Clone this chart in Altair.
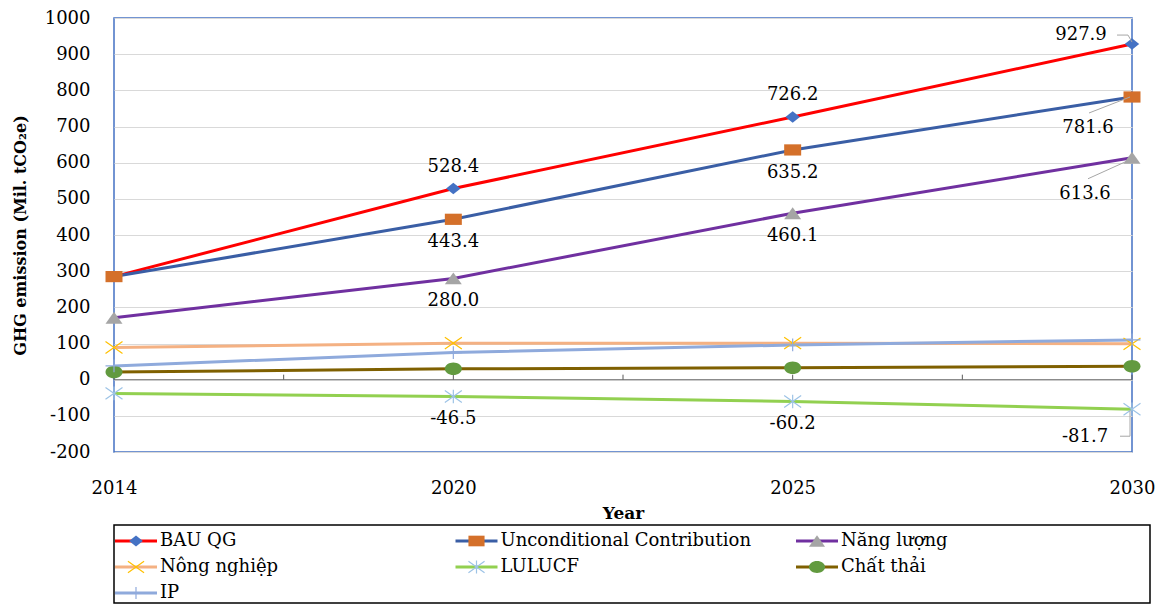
import json
import altair as alt
import pandas as pd

# ---------------- data ----------------
years = ["2014", "2020", "2025", "2030"]
series = ["BAU QG", "Unconditional Contribution", "Năng lượng", "Nông nghiệp",
          "LULUCF", "Chất thải", "IP"]
bau = [285.0, 528.4, 726.2, 927.9]
uncond = [285.0, 443.4, 635.2, 781.6]
energy = [171.0, 280.0, 460.1, 613.6]
agri = [89.0, 101.0, 101.0, 99.0]
lulucf = [-38.0, -46.5, -60.2, -81.7]
waste = [21.0, 30.0, 33.0, 37.0]
ip = [38.0, 75.0, 96.0, 110.0]
values = [bau, uncond, energy, agri, lulucf, waste, ip]

# labelled points: (series, year)
labels_above = [("BAU QG", "2020"), ("BAU QG", "2025")]
labels_below = [("Unconditional Contribution", "2020"), ("Unconditional Contribution", "2025"),
                ("Năng lượng", "2020"), ("Năng lượng", "2025"),
                ("LULUCF", "2020"), ("LULUCF", "2025")]

# ---------------- styles ----------------
FONT = "DejaVu Serif"
line_colors = ["#FF0000", "#3A5EA5", "#7030A0", "#F4B183", "#92D050", "#7F6000", "#8FAADC"]
marker_colors = ["#4472C4", "#D4702A", "#A5A5A5", "#FFC000", "#9DC3E6", "#629A3F", "#8FAADC"]
shapes = [
    "M-0.85,0L0,-0.68L0.85,0L0,0.68Z",                       # diamond
    "M-1,-0.66L1,-0.66L1,0.66L-1,0.66Z",                     # square
    "M-1,0.7L0,-0.7L1,0.7Z",                                 # triangle
    "M-1,-0.7L1,0.7M-1,0.7L1,-0.7",                          # x
    "M-1,-0.7L1,0.7M-1,0.7L1,-0.7M0,-0.8L0,0.8",             # asterisk
    "M-1,0A1,0.74 0 1,0 1,0A1,0.74 0 1,0 -1,0Z",             # circle
    "M-1,0L1,0M0,-0.75L0,0.75",                              # plus
]
filled_series = ["BAU QG", "Unconditional Contribution", "Năng lượng", "Chất thải"]
stroked_series = ["Nông nghiệp", "LULUCF", "IP"]

rows = []
for s, vals in zip(series, values):
    for i, (yr, v) in enumerate(zip(years, vals)):
        rows.append({"series": s, "year": yr, "xi": i, "value": v, "label": f"{v:.1f}"})
df = pd.DataFrame(rows)

color_scale = alt.Scale(domain=series, range=line_colors)
fill_scale = alt.Scale(domain=series, range=marker_colors)
shape_scale = alt.Scale(domain=series, range=shapes)
x_scale = alt.Scale(domain=[0, len(years) - 1], nice=False, zero=False)
y_scale = alt.Scale(domain=[-200, 1000], nice=False, zero=False)

label_expr = json.dumps(years) + "[datum.value]"

x_axis = alt.Axis(values=list(range(len(years))), labelExpr=label_expr, title="Year",
                  grid=False, domain=False, ticks=False, tickSize=0, labelPadding=27,
                  labelFlush=False, labelOverlap=False,
                  titlePadding=8, labelFont=FONT, labelFontSize=18, labelColor="black",
                  titleFont=FONT, titleFontSize=17, titleFontWeight="bold", titleColor="black")
y_axis = alt.Axis(values=list(range(-200, 1001, 100)), title="GHG emission (Mil. tCO₂e)",
                  labelExpr="'' + datum.value", labelOverlap=False, labelFlush=False,
                  grid=True, gridColor="#D9D9D9", gridWidth=1, domain=False, ticks=False,
                  tickSize=0, labelPadding=24, titlePadding=16, labelFont=FONT,
                  labelFontSize=18, labelColor="black", titleFont=FONT, titleFontSize=16,
                  titleFontWeight="bold", titleColor="black")

x_enc = alt.X("xi:Q", scale=x_scale, axis=x_axis, title="Year")
y_enc = alt.Y("value:Q", scale=y_scale, axis=y_axis, title="GHG emission (Mil. tCO₂e)")

base = alt.Chart(df).encode(x=x_enc, y=y_enc)

zero_line = alt.Chart(pd.DataFrame({"value": [0]})).mark_rule(
    color="#767676", strokeWidth=1).encode(y=y_enc)

tick_df = pd.DataFrame({"xi": [i / 2 for i in range(2 * len(years) - 1)], "value": 0})
zero_ticks = alt.Chart(tick_df).mark_rule(color="#595959", strokeWidth=1, y2Offset=-5).encode(
    x=x_enc, y=y_enc, y2="value:Q")

lines = base.mark_line(strokeWidth=3).encode(
    color=alt.Color("series:N", scale=color_scale, legend=None),
    order=alt.Order("xi:Q"),
)

filled_pts = base.transform_filter(
    alt.FieldOneOfPredicate(field="series", oneOf=filled_series)
).mark_point(filled=True, size=289, opacity=1, strokeWidth=0).encode(
    shape=alt.Shape("series:N", scale=shape_scale, legend=None),
    fill=alt.Fill("series:N", scale=fill_scale, legend=None),
)
stroked_pts = base.transform_filter(
    alt.FieldOneOfPredicate(field="series", oneOf=stroked_series)
).mark_point(filled=False, size=289, opacity=1, strokeWidth=1.2).encode(
    shape=alt.Shape("series:N", scale=shape_scale, legend=None),
    stroke=alt.Stroke("series:N", scale=fill_scale, legend=None),
)


def sel(pairs):
    expr = " || ".join(f"(datum.series === {json.dumps(s)} && datum.year === {json.dumps(y)})"
                       for s, y in pairs)
    return expr


text_style = dict(font=FONT, fontSize=18, color="black", baseline="middle", align="center")
txt_above = base.transform_filter(sel(labels_above)).mark_text(dy=-22, **text_style).encode(text="label:N")
txt_below = base.transform_filter(sel(labels_below)).mark_text(dy=23, **text_style).encode(text="label:N")

last = years[-1]
end_specs = [  # series, dx, dy for the 2030 labels
    ("BAU QG", -51, -9),
    ("Unconditional Contribution", -44, 31),
    ("Năng lượng", -47, 36),
    ("LULUCF", -47, 28),
]
end_layers = []
for s, dx, dy in end_specs:
    end_layers.append(base.transform_filter(sel([(s, last)])).mark_text(dx=dx, dy=dy, **text_style)
                      .encode(text="label:N"))

# leader lines (offsets relative to the point)
leader_specs = [
    ("BAU QG", (-15, -9), (-4, -9)),
    ("BAU QG", (-4, -9), (0, -2)),
    ("Unconditional Contribution", (-43, 16), (-2, 0)),
    ("Năng lượng", (-44, 21), (-2, 2)),
    ("LULUCF", (-12, 27), (-2, 27)),
    ("LULUCF", (-2, 27), (-2, 1)),
]
leader_layers = []
for s, (x1, y1), (x2, y2) in leader_specs:
    leader_layers.append(
        base.transform_filter(sel([(s, last)])).mark_rule(
            color="#A6A6A6", strokeWidth=1, xOffset=x1, yOffset=y1, x2Offset=x2, y2Offset=y2
        ).encode(x2="xi:Q", y2="value:Q")
    )

main = alt.layer(
    lines, zero_line, zero_ticks, filled_pts, stroked_pts, txt_above, txt_below,
    *end_layers, *leader_layers
).properties(width=1018, height=434,
             view=alt.ViewBackground(stroke="#4472C4", strokeWidth=1.5, fill="white"))

# ---------------- legend ----------------
leg = pd.DataFrame({"series": series,
                    "col": [i % 3 for i in range(len(series))],
                    "row": [i // 3 for i in range(len(series))]})
lbase = alt.Chart(leg).encode(
    x=alt.X("col:Q", scale=alt.Scale(domain=[0, 2], range=[22, 703], nice=False, zero=False), axis=None),
    y=alt.Y("row:Q", scale=alt.Scale(domain=[0, 2], range=[16, 68], nice=False, zero=False), axis=None),
)
leg_line = lbase.mark_point(shape="M-1,0L1,0", size=1764, filled=False, strokeWidth=3, opacity=1).encode(
    color=alt.Color("series:N", scale=color_scale, legend=None))
leg_filled = lbase.transform_filter(
    alt.FieldOneOfPredicate(field="series", oneOf=filled_series)
).mark_point(filled=True, size=260, opacity=1, strokeWidth=0).encode(
    shape=alt.Shape("series:N", scale=shape_scale, legend=None),
    fill=alt.Fill("series:N", scale=fill_scale, legend=None))
leg_stroked = lbase.transform_filter(
    alt.FieldOneOfPredicate(field="series", oneOf=stroked_series)
).mark_point(filled=False, size=260, opacity=1, strokeWidth=1.2).encode(
    shape=alt.Shape("series:N", scale=shape_scale, legend=None),
    stroke=alt.Stroke("series:N", scale=fill_scale, legend=None))
leg_text = lbase.mark_text(align="left", baseline="middle", dx=24, font=FONT, fontSize=18,
                           color="black").encode(text="series:N")
legend = alt.layer(leg_line, leg_filled, leg_stroked, leg_text).properties(
    width=1036, height=78, view=alt.ViewBackground(stroke="black", strokeWidth=1.5, fill="white"))

chart = alt.vconcat(main, legend, spacing=2).properties(
    padding={"left": 3, "top": 0, "right": 5, "bottom": 0}
).configure(background="white")

chart.save("out.html", embed_options={"renderer": "svg", "actions": False})
